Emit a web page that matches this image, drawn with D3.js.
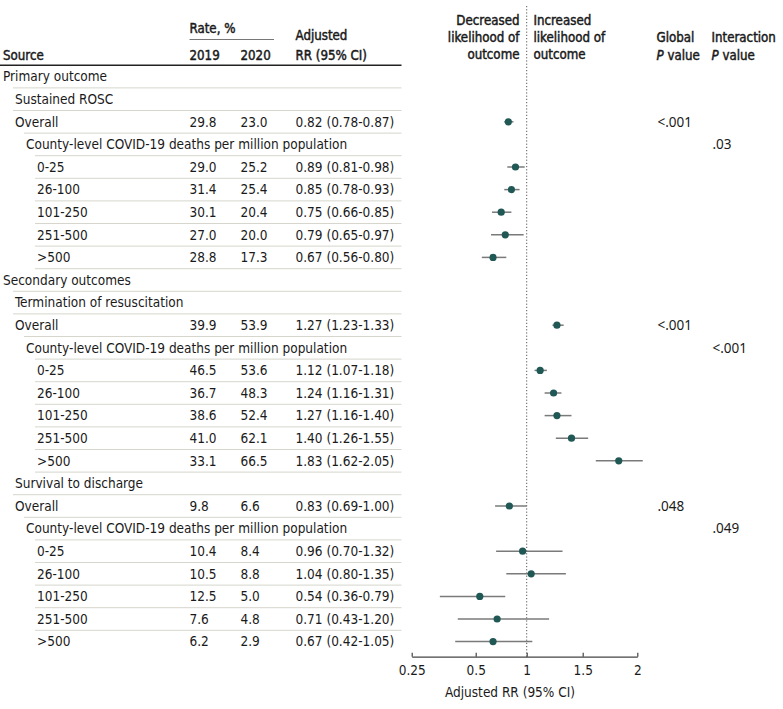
<!DOCTYPE html>
<html>
<head>
<meta charset="utf-8">
<script src="https://cdn.jsdelivr.net/npm/d3@7/dist/d3.min.js"></script>
<style>
  html, body { margin: 0; padding: 0; background: #fff; }
  svg { display: block; }
  .t { font-family: "DejaVu Sans Condensed", "DejaVu Sans", sans-serif; font-stretch: condensed; font-size: 13.5px; fill: #1a1a1a; }
  .h { font-size: 13.2px; stroke: #1a1a1a; stroke-width: 0.45px; }
  .p { font-family: "Noto Sans", "Open Sans", sans-serif; font-size: 13.5px; fill: #1a1a1a; }
</style>
</head>
<body>
<svg id="chart" width="783" height="709"></svg>
<script>
// ---------------- data ----------------
const sources = [
  "Primary outcome", "Sustained ROSC", "Overall",
  "County-level COVID-19 deaths per million population",
  "0-25", "26-100", "101-250", "251-500", ">500",
  "Secondary outcomes", "Termination of resuscitation", "Overall",
  "County-level COVID-19 deaths per million population",
  "0-25", "26-100", "101-250", "251-500", ">500",
  "Survival to discharge", "Overall",
  "County-level COVID-19 deaths per million population",
  "0-25", "26-100", "101-250", "251-500", ">500"
];
const levels = [0,1,1,2,3,3,3,3,3, 0,1,1,2,3,3,3,3,3, 1,1,2,3,3,3,3,3];
const rate2019 = [null,null,29.8,null,29.0,31.4,30.1,27.0,28.8, null,null,39.9,null,46.5,36.7,38.6,41.0,33.1, null,9.8,null,10.4,10.5,12.5,7.6,6.2];
const rate2020 = [null,null,23.0,null,25.2,25.4,20.4,20.0,17.3, null,null,53.9,null,53.6,48.3,52.4,62.1,66.5, null,6.6,null,8.4,8.8,5.0,4.8,2.9];
const rr    = [null,null,0.82,null,0.89,0.85,0.75,0.79,0.67, null,null,1.27,null,1.12,1.24,1.27,1.40,1.83, null,0.83,null,0.96,1.04,0.54,0.71,0.67];
const lower = [null,null,0.78,null,0.81,0.78,0.66,0.65,0.56, null,null,1.23,null,1.07,1.16,1.16,1.26,1.62, null,0.69,null,0.70,0.80,0.36,0.43,0.42];
const upper = [null,null,0.87,null,0.98,0.93,0.85,0.97,0.80, null,null,1.33,null,1.18,1.31,1.40,1.55,2.05, null,1.00,null,1.32,1.35,0.79,1.20,1.05];
const globalP      = [null,null,"<.001",null,null,null,null,null,null, null,null,"<.001",null,null,null,null,null,null, null,".048",null,null,null,null,null,null];
const interactionP = [null,null,null,".03",null,null,null,null,null, null,null,null,"<.001",null,null,null,null,null, null,null,".049",null,null,null,null,null];
const tickValues = [0.25, 0.5, 1, 1.5, 2];
const tickLabels = ["0.25", "0.5", "1", "1.5", "2"];

// ---------------- layout ----------------
const svg = d3.select("#chart");
const rowY = d3.scaleLinear().domain([0, 1]).range([76.6, 99.2]);
const indent = [3, 15, 26, 37];
// piecewise-linear axis matching the published figure's tick placement
const x = d3.scaleLinear().domain(tickValues).range([411.7, 475.7, 526.7, 582.7, 637.3]);
const axisY = 656.7;
const tableRight = 401.5;

// header
const hdr = svg.append("g");
hdr.append("text").attr("class","t h").attr("x",3).attr("y",59.5).text("Source");
hdr.append("text").attr("class","t h").attr("x",189.5).attr("y",33).text("Rate, %");
hdr.append("line").attr("x1",189.5).attr("x2",274).attr("y1",39.5).attr("y2",39.5).attr("stroke","#777").attr("stroke-width",1);
hdr.append("text").attr("class","t h").attr("x",189.5).attr("y",59.5).text("2019");
hdr.append("text").attr("class","t h").attr("x",240.5).attr("y",59.5).text("2020");
hdr.append("text").attr("class","t h").attr("x",295.5).attr("y",39.5).text("Adjusted");
hdr.append("text").attr("class","t h").attr("x",295.5).attr("y",59.5).text("RR (95% CI)");
hdr.append("line").attr("x1",0).attr("x2",tableRight).attr("y1",65.3).attr("y2",65.3).attr("stroke","#222").attr("stroke-width",1.6);

const dec = ["Decreased", "likelihood of", "outcome"];
const inc = ["Increased", "likelihood of", "outcome"];
dec.forEach((s,i) => hdr.append("text").attr("class","t h").attr("x",519.5).attr("y",25 + i*17.2).attr("text-anchor","end").text(s));
inc.forEach((s,i) => hdr.append("text").attr("class","t h").attr("x",533.5).attr("y",25 + i*17.2).text(s));
hdr.append("text").attr("class","t h").attr("x",656.5).attr("y",42.2).text("Global");
hdr.append("text").attr("class","t h").attr("x",711.5).attr("y",42.2).text("Interaction");
[656.5, 711.5].forEach(px => {
  const tx = hdr.append("text").attr("class","t h").attr("x",px).attr("y",59.5);
  tx.append("tspan").attr("font-style","italic").text("P");
  tx.append("tspan").text(" value");
});

// separators
const sep = svg.append("g");
for (let i = 0; i < sources.length - 1; i++) {
  const x0 = Math.max(indent[levels[i]], indent[levels[i+1]]) - 2;
  const yy = rowY(i) + 11.3;
  sep.append("line").attr("x1",x0).attr("x2",tableRight).attr("y1",yy).attr("y2",yy)
     .attr("stroke","#d6d6cc").attr("stroke-width",1);
}

// reference line at 1
svg.append("line").attr("x1",x(1)).attr("x2",x(1)).attr("y1",6).attr("y2",axisY)
   .attr("stroke","#555").attr("stroke-width",1).attr("stroke-dasharray","1.2,2");

// table rows
const rows = svg.append("g").selectAll("g").data(sources).join("g")
  .attr("transform",(d,i) => `translate(0,${rowY(i)})`);
rows.each(function(d,i){
  const g = d3.select(this);
  g.append("text").attr("class","t").attr("x",indent[levels[i]]).attr("dy","0.36em").text(d);
  if (rate2019[i] != null) g.append("text").attr("class","t").attr("x",189.5).attr("dy","0.36em").text(rate2019[i].toFixed(1));
  if (rate2020[i] != null) g.append("text").attr("class","t").attr("x",240.5).attr("dy","0.36em").text(rate2020[i].toFixed(1));
  if (rr[i] != null) g.append("text").attr("class","t").attr("x",295.5).attr("dy","0.36em")
      .text(`${rr[i].toFixed(2)} (${lower[i].toFixed(2)}-${upper[i].toFixed(2)})`);
  if (globalP[i]) g.append("text").attr("class","p").attr("x",657.5).attr("dy","0.36em").text(globalP[i]);
  if (interactionP[i]) g.append("text").attr("class","p").attr("x",712.5).attr("dy","0.36em").text(interactionP[i]);
});

// forest marks
const idx = d3.range(sources.length).filter(i => rr[i] != null);
const marks = svg.append("g");
marks.selectAll("line").data(idx).join("line")
  .attr("x1", i => x(lower[i])).attr("x2", i => x(upper[i]))
  .attr("y1", i => rowY(i)).attr("y2", i => rowY(i))
  .attr("stroke","#7a7a7a").attr("stroke-width",1.5);
marks.selectAll("circle").data(idx).join("circle")
  .attr("cx", i => x(rr[i])).attr("cy", i => rowY(i)).attr("r",3.6)
  .attr("fill","#1f5854");

// axis
const axis = d3.axisBottom(x).tickValues(tickValues).tickFormat((d,i) => tickLabels[i])
  .tickSizeInner(-4).tickSizeOuter(0).tickPadding(9);
const ax = svg.append("g").attr("transform",`translate(0,${axisY})`).call(axis);
ax.select(".domain").attr("stroke","#444").attr("stroke-width",1.2);
ax.selectAll(".tick line").attr("stroke","#444").attr("stroke-width",1.2);
ax.selectAll(".tick text").attr("class","t").attr("fill","#1a1a1a").style("font-size","13.5px");
svg.append("text").attr("class","t").attr("x",510).attr("y",696.5).attr("text-anchor","middle").text("Adjusted RR (95% CI)");
</script>
</body>
</html>
